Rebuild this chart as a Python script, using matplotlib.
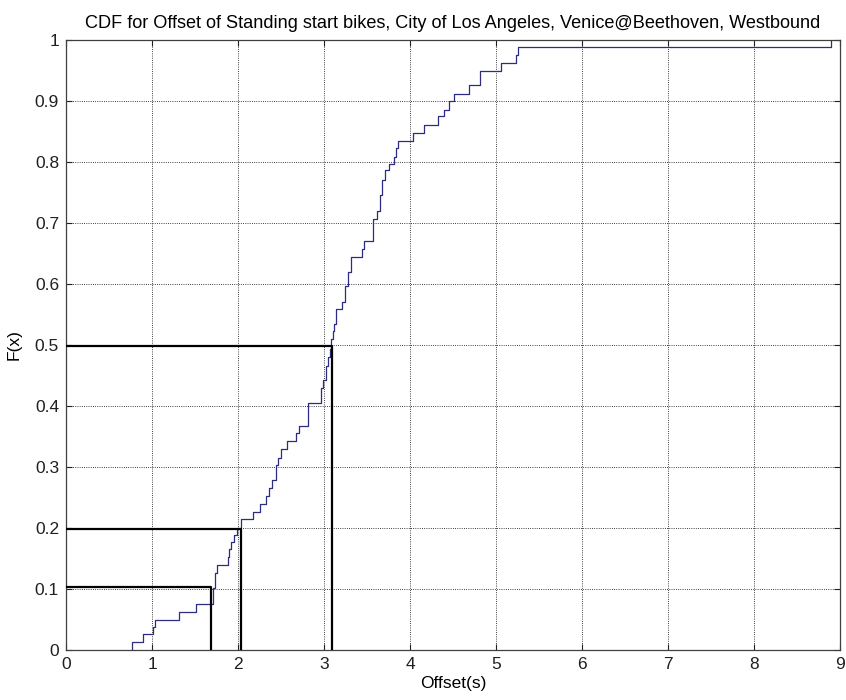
import matplotlib
matplotlib.use("Agg")
import matplotlib.pyplot as plt

# Empirical CDF: jump positions (s) and CDF level after each jump
start_x = 0.77
jump_x = [0.77, 0.89, 1.01, 1.04, 1.31, 1.51, 1.71, 1.73, 1.75, 1.88, 1.90, 1.92,
          1.95, 1.99, 2.04, 2.18, 2.26, 2.33, 2.36, 2.40, 2.44, 2.47, 2.50, 2.565,
          2.68, 2.71, 2.81, 2.965, 2.99, 3.02, 3.05, 3.065, 3.08, 3.10, 3.12, 3.14,
          3.21, 3.24, 3.28, 3.31, 3.44, 3.46, 3.57, 3.62, 3.65, 3.68, 3.71, 3.75,
          3.81, 3.84, 3.86, 4.04, 4.16, 4.33, 4.39, 4.45, 4.51, 4.69, 4.81, 5.06,
          5.23, 5.25, 8.90]
cdf_levels = [0.013, 0.026, 0.038, 0.050, 0.063, 0.076, 0.102, 0.127, 0.140, 0.152,
              0.165, 0.177, 0.189, 0.200, 0.214, 0.227, 0.240, 0.253, 0.265, 0.278,
              0.303, 0.315, 0.329, 0.342, 0.355, 0.368, 0.405, 0.430, 0.443, 0.466,
              0.480, 0.494, 0.510, 0.523, 0.535, 0.559, 0.571, 0.597, 0.620, 0.645,
              0.658, 0.670, 0.707, 0.720, 0.746, 0.771, 0.787, 0.797, 0.809, 0.823,
              0.835, 0.848, 0.861, 0.875, 0.886, 0.900, 0.912, 0.926, 0.949, 0.963,
              0.976, 0.988, 1.000]

# Percentile marker lines (x value, F value)
pct_x = [1.69, 2.03, 3.09]
pct_y = [0.104, 0.198, 0.499]

x_ticks = list(range(0, 10))
y_ticks = [0, 0.1, 0.2, 0.3, 0.4, 0.5, 0.6, 0.7, 0.8, 0.9, 1]
y_ticklabels = ["0", "0.1", "0.2", "0.3", "0.4", "0.5", "0.6", "0.7", "0.8", "0.9", "1"]

plt.rcParams['font.family'] = ['Liberation Sans', 'DejaVu Sans']

fig = plt.figure(figsize=(8.46, 7.0), dpi=100)
ax = fig.add_axes([66 / 846, 50 / 700, 774 / 846, 610 / 700])

ax.step([start_x] + jump_x, [0.0] + cdf_levels, where='post', color='#2c2c82', lw=0.9, zorder=3)

for px, py in zip(pct_x, pct_y):
    ax.plot([0, px, px], [py, py, 0], color='black', lw=1.6, zorder=4)

ax.set_xlim(0, 9)
ax.set_ylim(0, 1)
ax.set_xticks(x_ticks)
ax.set_yticks(y_ticks)
ax.set_yticklabels(y_ticklabels)
ax.grid(True, linestyle=':', color='black', lw=0.6)
ax.tick_params(direction='in', length=4, width=0.8, top=True, right=True,
               labelsize=12.5, colors='#202020', pad=5)
for s in ax.spines.values():
    s.set_color('#404040')
    s.set_linewidth(0.9)

ax.set_xlabel('Offset(s)', fontsize=12.5)
ax.set_ylabel('F(x)', fontsize=12.5)
ax.xaxis.set_label_coords(0.5, (650 - 676) / 610)
ax.yaxis.set_label_coords((22 - 66) / 774, 0.5)
ax.set_title('CDF for Offset of Standing start bikes, City of Los Angeles, Venice@Beethoven, Westbound',
             fontsize=13.1, pad=9)

fig.savefig('out.png', dpi=100)
